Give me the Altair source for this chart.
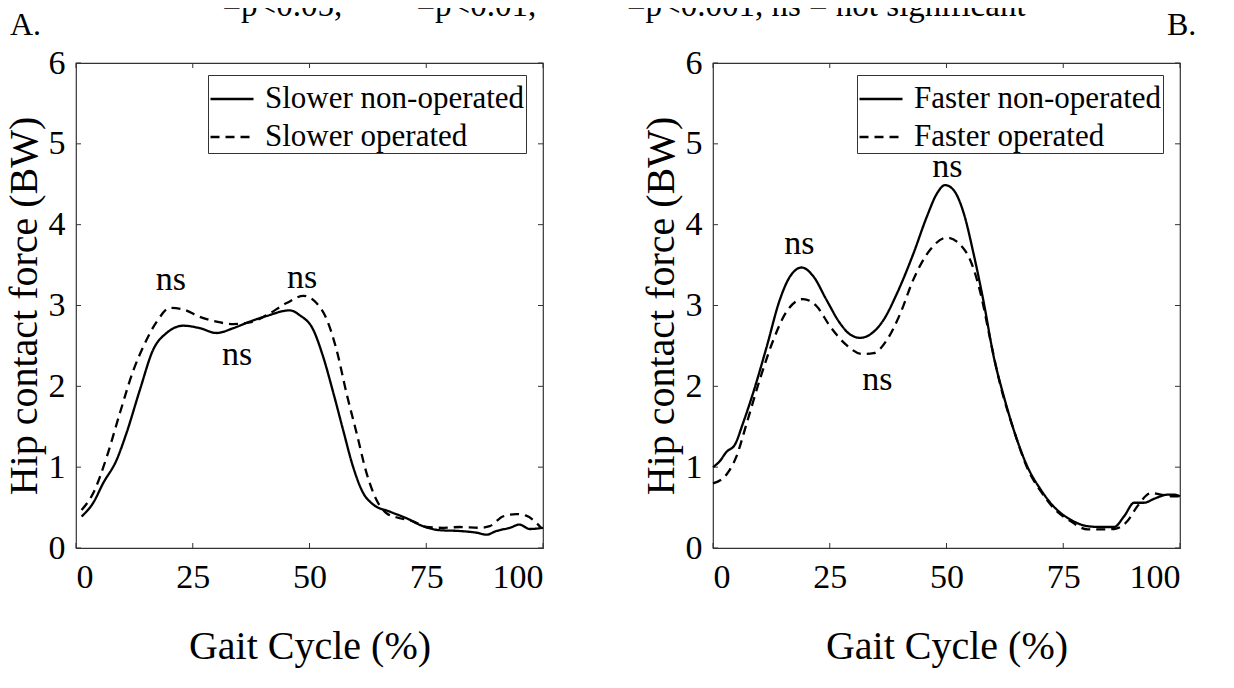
import altair as alt
import pandas as pd

FONT = "Liberation Serif"

# ---------------- data ----------------
SLOW_NON_X = [1.2, 3.7, 5.8, 8.7, 10.8, 13.7, 16.5, 19.4, 23.0, 26.5, 30.1, 33.7, 37.2, 40.8, 45.8,
              47.9, 50.8, 52.9, 55.1, 57.2, 59.3, 61.5, 63.6, 67.2, 70.7, 74.3, 77.9, 82.2, 85.7,
              87.9, 90.0, 92.9, 95.0, 97.1, 100]
SLOW_NON_Y = [0.39, 0.56, 0.80, 1.09, 1.42, 1.96, 2.45, 2.66, 2.75, 2.72, 2.66, 2.72, 2.80, 2.87, 2.94,
              2.88, 2.70, 2.37, 1.92, 1.46, 1.01, 0.68, 0.54, 0.45, 0.37, 0.27, 0.22, 0.21, 0.19,
              0.165, 0.21, 0.25, 0.29, 0.235, 0.25]
SLOW_OP_X = [1.2, 3.7, 6.6, 9.4, 12.3, 14.4, 17.3, 20.1, 23.0, 26.5, 30.1, 33.7, 37.2, 40.8, 45.1,
             48.7, 51.5, 53.6, 55.8, 57.9, 60.1, 62.2, 64.3, 66.5, 68.6, 72.2, 75.0, 78.6, 82.2,
             86.4, 88.6, 91.4, 94.3, 96.4, 98.6, 99.6]
SLOW_OP_Y = [0.47, 0.68, 1.13, 1.67, 2.20, 2.49, 2.80, 2.97, 2.95, 2.86, 2.80, 2.77, 2.79, 2.88, 3.03,
             3.12, 3.03, 2.84, 2.45, 1.92, 1.42, 0.93, 0.60, 0.43, 0.38, 0.33, 0.26, 0.25, 0.26,
             0.25, 0.27, 0.39, 0.42, 0.40, 0.31, 0.25]

FAST_NON_X = [0, 1.4, 2.9, 4.7, 6.4, 8.6, 11.5, 14.3, 16.5, 19.0, 21.5, 24.3, 27.2, 29.4, 31.5, 33.6,
              36.5, 39.4, 42.9, 45.8, 48.0, 49.7, 51.5, 53.7, 55.8, 58.0, 60.1, 62.3, 64.4, 67.3,
              70.2, 73.0, 76.6, 80.2, 83.0, 85.9, 88.0, 90.2, 92.3, 94.5, 97.4, 98.8, 100]
FAST_NON_Y = [1.00, 1.07, 1.19, 1.28, 1.54, 1.92, 2.49, 3.07, 3.36, 3.47, 3.36, 3.07, 2.78, 2.64, 2.60,
              2.64, 2.82, 3.15, 3.64, 4.10, 4.39, 4.49, 4.43, 4.14, 3.64, 3.03, 2.37, 1.87, 1.46, 1.01,
              0.72, 0.51, 0.35, 0.27, 0.26, 0.26, 0.39, 0.56, 0.56, 0.61, 0.66, 0.66, 0.64]
FAST_OP_X = [0, 2.9, 5.0, 7.2, 10.0, 12.9, 15.7, 19.3, 22.2, 25.1, 28.6, 31.9, 34.4, 37.2, 40.1,
             42.9, 46.5, 50.1, 53.0, 55.1, 57.3, 59.4, 61.6, 64.4, 67.3, 70.2, 73.0, 76.6, 80.2,
             83.0, 85.9, 88.7, 90.8, 93.8, 95.9, 98.1, 100]
FAST_OP_Y = [0.80, 0.91, 1.13, 1.54, 2.08, 2.57, 2.92, 3.08, 2.99, 2.74, 2.51, 2.40, 2.41, 2.57, 2.90,
             3.32, 3.69, 3.84, 3.75, 3.56, 3.15, 2.57, 2.00, 1.46, 0.99, 0.70, 0.49, 0.33, 0.23,
             0.23, 0.235, 0.33, 0.51, 0.68, 0.66, 0.64, 0.64]

SLOW_SERIES = ["Slower non-operated", "Slower operated"]
FAST_SERIES = ["Faster non-operated", "Faster operated"]

NS_SLOW_X = [20.3, 34.5, 48.4]
NS_SLOW_Y = [3.32, 2.39, 3.34]
NS_FAST_X = [18.5, 35.2, 50.2]
NS_FAST_Y = [3.76, 2.08, 4.71]
NS_TEXT = "ns"

X_TICKS = [0, 25, 50, 75, 100]
Y_TICKS = [0, 1, 2, 3, 4, 5, 6]
X_TITLE = "Gait Cycle (%)"
Y_TITLE = "Hip contact force (BW)"
NB = "\u00a0"
HEADER = "*=p<0.05," + NB * 5 + "**=p<0.01," + NB * 5 + "***=p<0.001, ns = not significant"
PANEL_LABELS = ["A.", "B."]

W, H = 467, 485


def series_df(xs, ys, name):
    return pd.DataFrame({"pct": xs, "force": ys, "series": name})


def panel(non_x, non_y, op_x, op_y, names, ns_x, ns_y, legend_x, extra_layers):
    df = pd.concat([series_df(non_x, non_y, names[0]), series_df(op_x, op_y, names[1])])
    xs = alt.Scale(domain=[0, 100], nice=False, zero=False)
    ys = alt.Scale(domain=[0, 6], nice=False)
    lines = alt.Chart(df).mark_line(color="black", strokeWidth=2.3, interpolate="monotone").encode(
        x=alt.X("pct:Q", scale=xs, title=X_TITLE,
                axis=alt.Axis(values=X_TICKS, format="d", ticks=False, tickSize=0, domain=False,
                              grid=False, labelPadding=12, titlePadding=32)),
        y=alt.Y("force:Q", scale=ys, title=Y_TITLE,
                axis=alt.Axis(values=Y_TICKS, format="d", ticks=False, tickSize=0, domain=False,
                              grid=False, labelPadding=11, titlePadding=4)),
        strokeDash=alt.StrokeDash(
            "series:N",
            scale=alt.Scale(domain=names, range=[[1, 0], [9, 6]]),
            legend=alt.Legend(
                title=None, orient="none", legendX=legend_x, legendY=12,
                symbolType="stroke", symbolSize=1849, symbolStrokeWidth=2.3,
                symbolStrokeColor="black", labelFont=FONT, labelFontSize=31,
                labelColor="black", labelOffset=10, labelLimit=500,
                strokeColor="#333", fillColor="white", padding=1, rowPadding=-5,
            ),
        ),
        order=alt.Order("pct:Q"),
    )
    ticks_df = pd.DataFrame({"t": X_TICKS})
    yticks_df = pd.DataFrame({"t": Y_TICKS})
    tb = alt.Chart(ticks_df).mark_rule(color="#333", strokeWidth=1).encode(
        x=alt.X("t:Q", scale=xs), y=alt.value(H), y2=alt.value(H - 5))
    tt = alt.Chart(ticks_df).mark_rule(color="#333", strokeWidth=1).encode(
        x=alt.X("t:Q", scale=xs), y=alt.value(0), y2=alt.value(5))
    tl = alt.Chart(yticks_df).mark_rule(color="#333", strokeWidth=1).encode(
        y=alt.Y("t:Q", scale=ys), x=alt.value(0), x2=alt.value(5))
    tr = alt.Chart(yticks_df).mark_rule(color="#333", strokeWidth=1).encode(
        y=alt.Y("t:Q", scale=ys), x=alt.value(W - 5), x2=alt.value(W))
    ns_df = pd.DataFrame({"x": ns_x, "y": ns_y, "t": [NS_TEXT] * len(ns_x)})
    ns = alt.Chart(ns_df).mark_text(font=FONT, fontSize=34, color="black", baseline="middle").encode(
        x=alt.X("x:Q", scale=xs), y=alt.Y("y:Q", scale=ys), text="t:N")
    layers = [tb, tt, tl, tr, lines, ns] + extra_layers
    return alt.layer(*layers).properties(width=W, height=H).resolve_scale(strokeDash="independent")


header = alt.Chart(pd.DataFrame({"t": [HEADER]})).mark_text(
    font=FONT, fontSize=33, color="black", align="left", baseline="alphabetic").encode(
    x=alt.value(130), y=alt.value(-47), text="t:N")
label_a = alt.Chart(pd.DataFrame({"t": [PANEL_LABELS[0]]})).mark_text(
    font=FONT, fontSize=32, color="black", align="left", baseline="alphabetic").encode(
    x=alt.value(-66), y=alt.value(-28), text="t:N")
label_b = alt.Chart(pd.DataFrame({"t": [PANEL_LABELS[1]]})).mark_text(
    font=FONT, fontSize=32, color="black", align="left", baseline="alphabetic").encode(
    x=alt.value(454), y=alt.value(-28), text="t:N")

left = panel(SLOW_NON_X, SLOW_NON_Y, SLOW_OP_X, SLOW_OP_Y, SLOW_SERIES, NS_SLOW_X, NS_SLOW_Y, 132,
             [header, label_a])
right = panel(FAST_NON_X, FAST_NON_Y, FAST_OP_X, FAST_OP_Y, FAST_SERIES, NS_FAST_X, NS_FAST_Y, 144,
              [label_b])

chart = alt.hconcat(left, right, spacing=170, bounds="flush").resolve_scale(
    strokeDash="independent", x="independent", y="independent"
).resolve_legend(strokeDash="independent").properties(
    autosize=alt.AutoSizeParams(type="none"),
    padding={"left": 68, "top": 55, "right": 1150, "bottom": 615},
    background="white",
).configure_view(stroke="#333", strokeWidth=1.2).configure_axis(
    labelFont=FONT, labelFontSize=34, labelColor="black",
    titleFont=FONT, titleFontSize=40, titleFontWeight="normal", titleColor="black",
)

chart.save("out.html", embed_options={"renderer": "svg", "actions": False})
